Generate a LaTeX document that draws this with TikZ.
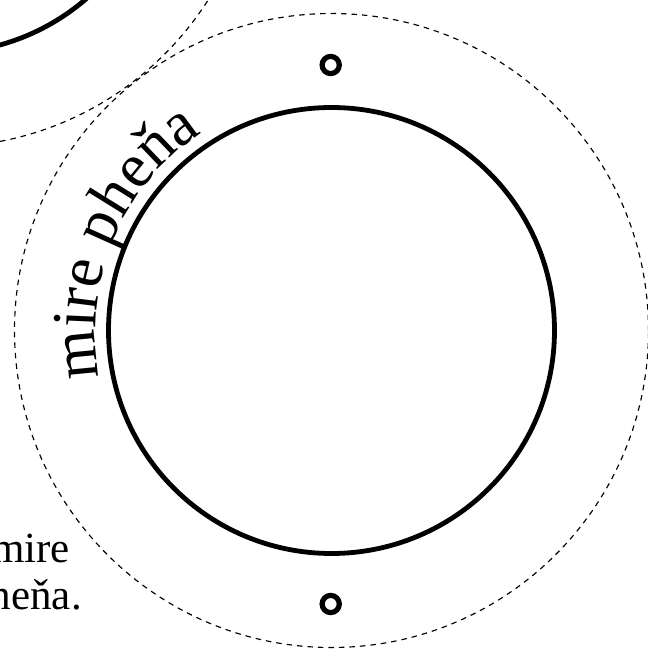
\documentclass[tikz,border=0pt]{standalone}
\usepackage{fontspec}
\setmainfont{Liberation Serif}
\usetikzlibrary{decorations.text}
\newcommand\mycurvefont{\fontsize{63pt}{63pt}\selectfont}
\begin{document}
\begin{tikzpicture}[x=1pt,y=1pt,
  solidring/.style={line width=4.8pt},
  dashring/.style={line width=1.15pt, dash pattern=on 5.5pt off 5pt},
  marker/.style={line width=5.2pt},
  bodytext/.style={font=\fontsize{43pt}{47pt}\selectfont, inner sep=0pt}]
\useasboundingbox (0,0) rectangle (648,649);
\begin{scope}
\clip (0,0) rectangle (648,649);
\coordinate (C) at (331.5,318.5);
\coordinate (U) at (-59.5,819);
\draw[dashring] (C) circle[radius=317];
\draw[solidring] (C) circle[radius=223];
\draw[dashring] (U) circle[radius=317];
\draw[solidring] (U) circle[radius=223];
\draw[marker] (330.7,584) circle[radius=8.6];
\draw[marker] (330.7,45) circle[radius=8.6];
\path[decorate, decoration={text along path, text={|\mycurvefont|mire pheňa}, text align=left}]
  ([shift={(C)}]191.5:236) arc[start angle=191.5, end angle=90, radius=236];
\node[bodytext, anchor=base east] (t1) at (70,86) {mire};
\node[bodytext, anchor=base east] (t2) at (82,39) {pheňa.};
\end{scope}
\end{tikzpicture}
\end{document}
